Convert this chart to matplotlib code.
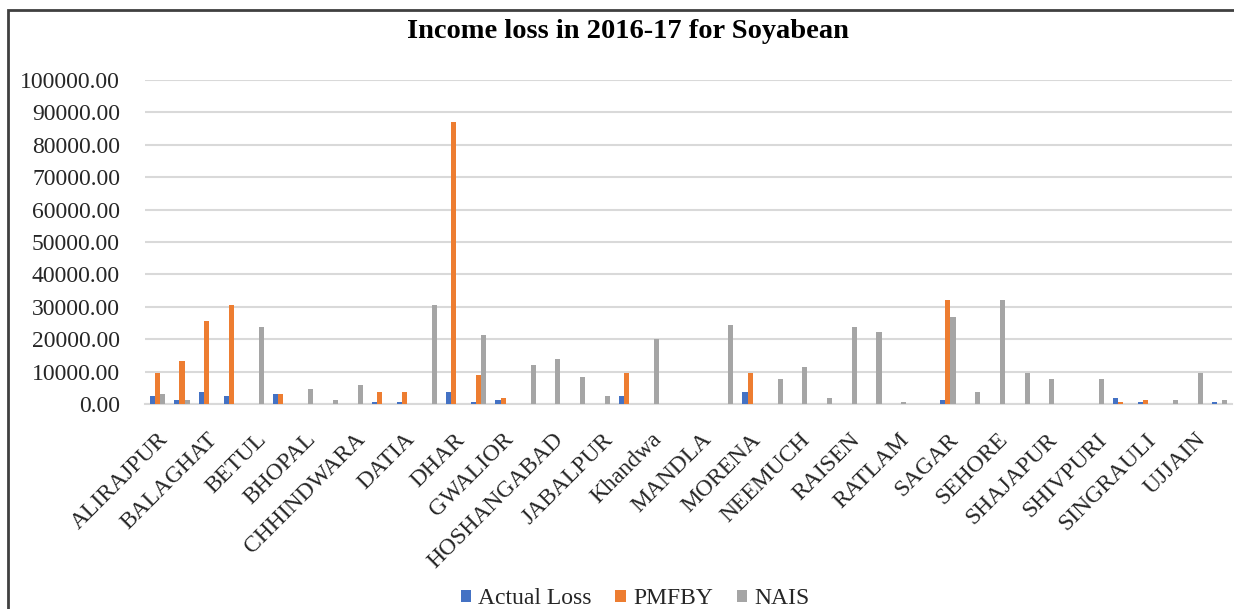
import numpy as np
import matplotlib
matplotlib.use("Agg")
import matplotlib.pyplot as plt
from matplotlib.patches import Rectangle

plt.rcParams['font.family'] = ['Liberation Serif', 'DejaVu Serif']

# districts (only every other one gets a label on the axis)
districts = ["ALIRAJPUR", "ASHOKNAGAR", "BALAGHAT", "BARWANI", "BETUL", "BHIND",
             "BHOPAL", "BURHANPUR", "CHHINDWARA", "DAMOH", "DATIA", "DEWAS",
             "DHAR", "GUNA", "GWALIOR", "HARDA", "HOSHANGABAD", "INDORE",
             "JABALPUR", "JHABUA", "Khandwa", "KHARGONE", "MANDLA", "MANDSAUR",
             "MORENA", "NARSINGHPUR", "NEEMUCH", "PANNA", "RAISEN", "RAJGARH",
             "RATLAM", "REWA", "SAGAR", "SATNA", "SEHORE", "SEONI",
             "SHAJAPUR", "SHEOPUR", "SHIVPURI", "SIDHI", "SINGRAULI", "TIKAMGARH",
             "UJJAIN", "VIDISHA"]

actual_loss = [2500, 1300, 3800, 2500, 0, 3200,
               0, 0, 0, 700, 700, 0,
               3800, 700, 1300, 0, 0, 0,
               0, 2500, 0, 0, 0, 0,
               3800, 0, 0, 0, 0, 0,
               0, 0, 1300, 0, 0, 0,
               0, 0, 0, 1900, 650, 0,
               0, 650]

pmfby = [9700, 13300, 25700, 30600, 0, 3200,
         0, 0, 0, 3800, 3800, 0,
         86900, 8900, 1900, 0, 0, 0,
         0, 9700, 0, 0, 0, 0,
         9700, 0, 0, 0, 0, 0,
         0, 0, 32000, 0, 0, 0,
         0, 0, 0, 650, 1300, 0,
         0, 0]

nais = [3200, 1300, 0, 0, 23800, 0,
        4500, 1300, 5800, 0, 0, 30600,
        0, 21300, 0, 12100, 14000, 8400,
        2500, 0, 20200, 0, 0, 24500,
        0, 7700, 11500, 1900, 23900, 22100,
        650, 0, 27000, 3800, 32000, 9700,
        7700, 0, 7700, 0, 0, 1300,
        9700, 1300]

series_names = ["Actual Loss", "PMFBY", "NAIS"]
colors = ["#4472C4", "#ED7D31", "#A5A5A5"]

fig = plt.figure(figsize=(12.34, 6.09), dpi=100)
ax = fig.add_axes([145 / 1234, 1 - 404 / 609, 1087 / 1234, 324 / 609])

x = np.arange(len(districts))
w = 0.21
handles = []
for i, (vals, name, col) in enumerate(zip([actual_loss, pmfby, nais], series_names, colors)):
    b = ax.bar(x + (i - 1) * w, vals, width=w, color=col, label=name, zorder=3)
    handles.append(b)

ax.set_xlim(-0.5, len(districts) - 0.5)
ax.set_ylim(0, 100000)
ax.set_yticks(np.arange(0, 100001, 10000))
ax.set_yticklabels(["%.2f" % v for v in np.arange(0, 100001, 10000)])
ax.tick_params(axis='y', length=0, pad=18, labelsize=17, labelcolor='#262626')

ax.set_xticks(x[::2])
ax.set_xticklabels(districts[::2], rotation=45, ha='right', rotation_mode='anchor')
ax.tick_params(axis='x', length=0, pad=18, labelsize=17, labelcolor='#262626')

ax.grid(axis='y', color='#d9d9d9', linewidth=1.5, zorder=0)
for s in ['top', 'right', 'left']:
    ax.spines[s].set_visible(False)
ax.spines['bottom'].set_color('#d9d9d9')
ax.spines['bottom'].set_linewidth(1.5)

fig.text(628 / 1234, 1 - 31 / 609, "Income loss in 2016-17 for Soyabean",
         ha='center', va='center', fontsize=20.5, fontweight='bold', color='black')

fig.legend(handles=handles, labels=series_names, loc='center',
           bbox_to_anchor=(635 / 1234, 1 - 599 / 609), ncol=3, frameon=False,
           fontsize=17, handlelength=0.45, handleheight=0.45, handletextpad=0.3,
           columnspacing=1.0, labelcolor='#262626')

# outer chart border (cut off on the right and bottom)
fig.patches.append(Rectangle((8 / 1234, -0.05), 1.1, 1 - 10 / 609 + 0.05,
                             transform=fig.transFigure, fill=False,
                             edgecolor='#404040', linewidth=2))

fig.savefig("out.png", dpi=100)
